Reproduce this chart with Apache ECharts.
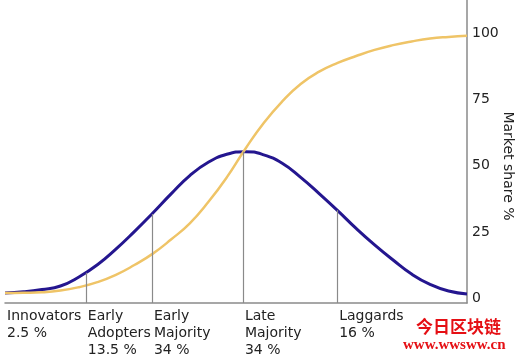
<!DOCTYPE html>
<html>
<head>
<meta charset="utf-8">
<script src="https://cdn.jsdelivr.net/npm/echarts@6/dist/echarts.min.js"></script>
<style>
html,body{margin:0;padding:0;background:#fff;}
#chart{width:517px;height:356px;}
</style>
</head>
<body>
<div id="chart"></div>
<script>
// Horizontal position of samples (0-100 across the time span)
const timeX = [0, 4, 8, 12, 16, 20, 24, 28, 32, 36, 40, 44, 48, 52, 56, 60, 64, 68, 72, 76, 80, 84, 88, 92, 96, 100];
// Adoption curve (bell)
const adoptionY = [2.1, 2.5, 3.35, 4.7, 8.1, 12.7, 18.6, 25.2, 32.2, 39.5, 46.3, 51.3, 54.3, 55.3, 54.1, 50.9, 45.6, 39.5, 33.1, 26.4, 20.2, 14.5, 9.2, 5.3, 2.8, 1.7];
// Market share curve (cumulative, S-curve)
const shareY = [2.07, 2.15, 2.34, 2.98, 4.26, 6.14, 8.9, 12.6, 16.9, 22.3, 28.3, 36.3, 45.6, 56.3, 66.1, 74.2, 80.8, 85.4, 88.7, 91.3, 93.6, 95.4, 96.8, 97.9, 98.5, 98.9];
// Segments
const segmentStarts = [0, 17.5, 31.8, 51.5, 71.9];
const segmentNames = ['Innovators', 'Early\nAdopters', 'Early\nMajority', 'Late\nMajority', 'Laggards'];
const segmentShares = ['2.5 %', '13.5 %', '34 %', '34 %', '16 %'];
// Height of the bell curve at each segment boundary (after the first)
const boundaryTops = [9.7, 31.8, 55.3, 33.3];
// Right axis ticks
const yTicks = [0, 25, 50, 75, 100];

const Y_MIN = -1.7, Y_MAX = 112.4;
const FONT = 'DejaVu Sans';

const adoptionData = timeX.map((x, i) => [x, adoptionY[i]]);
const shareData = timeX.map((x, i) => [x, shareY[i]]);
const boundaryLines = segmentStarts.slice(1).map((x, i) => [
  { coord: [x, Y_MIN] }, { coord: [x, boundaryTops[i]] }
]);

const chart = echarts.init(document.getElementById('chart'), null, { renderer: 'canvas' });
chart.setOption({
  animation: false,
  backgroundColor: '#ffffff',
  grid: { left: 5, right: 50, top: 0, bottom: 53, containLabel: false, outerBoundsMode: 'none' },
  xAxis: {
    type: 'value', min: 0, max: 100,
    axisLine: { show: true, onZero: false, lineStyle: { color: '#8a8a8a', width: 1.5 } },
    axisTick: { show: false },
    splitLine: { show: false },
    axisLabel: {
      customValues: segmentStarts,
      formatter: v => {
        const i = segmentStarts.indexOf(v);
        return i < 0 ? '' : segmentNames[i] + '\n' + segmentShares[i];
      },
      align: 'left', verticalAlign: 'top',
      margin: 5, padding: [0, 0, 0, 2],
      lineHeight: 17, fontSize: 14, color: '#222', fontFamily: FONT
    }
  },
  yAxis: {
    type: 'value', position: 'right', min: Y_MIN, max: Y_MAX,
    axisLine: { show: true, onZero: false, lineStyle: { color: '#8a8a8a', width: 1.5 } },
    axisTick: { show: false },
    splitLine: { show: false },
    axisLabel: {
      customValues: yTicks,
      margin: 5, fontSize: 14, color: '#222', fontFamily: FONT
    }
  },
  series: [
    {
      name: 'Adoption', type: 'line', data: adoptionData,
      showSymbol: false, smooth: 0.5,
      lineStyle: { color: '#24168f', width: 3 },
      z: 3,
      markLine: {
        silent: true, symbol: 'none', label: { show: false },
        lineStyle: { color: '#8a8a8a', width: 1.2, type: 'solid' },
        data: boundaryLines
      }
    },
    {
      name: 'Market share', type: 'line', data: shareData,
      showSymbol: false, smooth: 0.5,
      lineStyle: { color: '#efc467', width: 2.5 },
      z: 4
    }
  ],
  graphic: [
    {
      type: 'text', x: 508, y: 166, rotation: -Math.PI / 2,
      style: { text: 'Market share %', x: 0, y: 0, align: 'center', verticalAlign: 'middle',
        font: '14px "DejaVu Sans"', fill: '#222' }
    },
    {
      type: 'text', x: 416, y: 318,
      style: { text: '今日区块链', font: 'bold 17px "Noto Sans CJK SC"', fill: '#e50f14' }
    },
    {
      type: 'text', x: 403, y: 338,
      style: { text: 'www.wwsww.cn', font: 'bold 15px "Liberation Serif"', fill: '#e50f14' }
    }
  ]
});
</script>
</body>
</html>
